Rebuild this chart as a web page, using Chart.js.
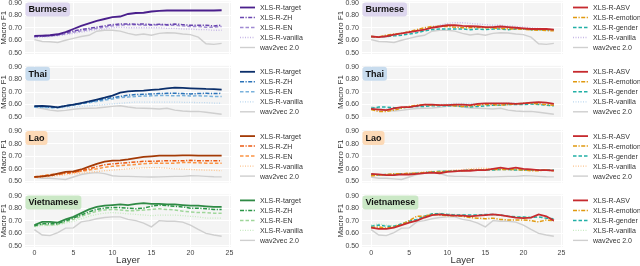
<!DOCTYPE html>
<html><head><meta charset="utf-8">
<script src="https://cdn.jsdelivr.net/npm/chart.js@4.4.1/dist/chart.umd.min.js"></script>
<style>
html,body{margin:0;padding:0;background:#fff;}
#wrap{position:relative;width:640px;height:266px;overflow:hidden;background:#fff;}
canvas{position:absolute;}
</style></head><body><div id="wrap"></div>
<script>
const layers = [0,1,2,3,4,5,6,7,8,9,10,11,12,13,14,15,16,17,18,19,20,21,22,23,24];
const languages = ['Burmese','Thai','Lao','Vietnamese'];
const leftSeriesNames = ['XLS-R-target','XLS-R-ZH','XLS-R-EN','XLS-R-vanilla','wav2vec 2.0'];
const rightSeriesNames = ['XLS-R-ASV','XLS-R-emotion','XLS-R-gender','XLS-R-vanilla','wav2vec 2.0'];
const yTicks = [0.5,0.6,0.7,0.8,0.9];
const xTicks = [0,5,10,15,20,25];

const burmeseTarget = [0.635,0.637,0.64,0.648,0.665,0.69,0.715,0.735,0.755,0.77,0.785,0.79,0.81,0.818,0.82,0.83,0.835,0.838,0.838,0.838,0.838,0.838,0.838,0.838,0.84];
const burmeseZH = [0.63,0.632,0.638,0.645,0.66,0.675,0.685,0.695,0.705,0.715,0.725,0.73,0.73,0.728,0.73,0.725,0.728,0.725,0.73,0.725,0.72,0.72,0.72,0.715,0.72];
const burmeseEN = [0.63,0.632,0.636,0.64,0.65,0.665,0.675,0.685,0.695,0.705,0.715,0.72,0.725,0.725,0.72,0.72,0.725,0.72,0.72,0.715,0.71,0.71,0.705,0.705,0.71];
const burmeseVanilla = [0.62,0.625,0.63,0.635,0.645,0.655,0.665,0.675,0.685,0.69,0.70,0.705,0.70,0.70,0.70,0.70,0.70,0.695,0.695,0.69,0.69,0.685,0.685,0.68,0.68];
const burmeseW2V = [0.605,0.59,0.588,0.582,0.60,0.615,0.63,0.64,0.672,0.68,0.68,0.673,0.655,0.642,0.65,0.64,0.655,0.66,0.658,0.65,0.645,0.625,0.572,0.567,0.575];
const burmeseASV = [0.63,0.625,0.632,0.645,0.655,0.665,0.675,0.685,0.70,0.71,0.72,0.72,0.715,0.712,0.71,0.705,0.705,0.71,0.705,0.70,0.695,0.69,0.69,0.69,0.685];
const burmeseEmotion = [0.63,0.628,0.64,0.65,0.655,0.67,0.685,0.70,0.71,0.712,0.71,0.705,0.70,0.70,0.702,0.70,0.698,0.695,0.692,0.69,0.688,0.682,0.68,0.678,0.675];
const burmeseGender = [0.63,0.625,0.63,0.635,0.64,0.65,0.66,0.675,0.685,0.69,0.69,0.69,0.69,0.685,0.69,0.685,0.69,0.69,0.685,0.69,0.69,0.685,0.685,0.685,0.685];
const burmeseVanillaR = [0.625,0.625,0.63,0.64,0.65,0.66,0.675,0.69,0.705,0.72,0.735,0.74,0.74,0.735,0.73,0.725,0.72,0.72,0.715,0.71,0.705,0.70,0.695,0.69,0.685];

const thaiTarget = [0.588,0.59,0.585,0.578,0.59,0.60,0.612,0.625,0.64,0.655,0.672,0.695,0.705,0.71,0.712,0.718,0.722,0.73,0.735,0.733,0.73,0.728,0.725,0.724,0.72];
const thaiZH = [0.585,0.585,0.58,0.578,0.59,0.60,0.61,0.62,0.632,0.645,0.655,0.665,0.675,0.68,0.682,0.685,0.688,0.69,0.69,0.688,0.685,0.688,0.69,0.688,0.69];
const thaiEN = [0.58,0.578,0.575,0.575,0.585,0.595,0.605,0.615,0.625,0.635,0.645,0.655,0.66,0.665,0.668,0.67,0.672,0.672,0.67,0.672,0.668,0.67,0.668,0.665,0.665];
const thaiVanilla = [0.578,0.575,0.572,0.57,0.575,0.58,0.585,0.59,0.595,0.60,0.605,0.61,0.615,0.62,0.62,0.62,0.62,0.62,0.62,0.618,0.618,0.615,0.615,0.612,0.61];
const thaiW2V = [0.58,0.568,0.555,0.548,0.553,0.562,0.568,0.57,0.572,0.578,0.585,0.59,0.58,0.572,0.57,0.568,0.565,0.57,0.555,0.548,0.545,0.545,0.538,0.53,0.522];
const thaiASV = [0.565,0.56,0.555,0.57,0.58,0.58,0.59,0.60,0.60,0.595,0.595,0.60,0.60,0.595,0.605,0.61,0.61,0.61,0.61,0.605,0.61,0.615,0.62,0.615,0.605];
const thaiEmotion = [0.56,0.545,0.545,0.555,0.57,0.585,0.595,0.60,0.595,0.595,0.595,0.59,0.585,0.59,0.595,0.60,0.60,0.595,0.60,0.605,0.61,0.61,0.605,0.60,0.595];
const thaiGender = [0.57,0.58,0.58,0.575,0.575,0.58,0.585,0.585,0.59,0.59,0.59,0.59,0.585,0.58,0.585,0.59,0.595,0.595,0.60,0.60,0.60,0.605,0.60,0.595,0.59];
const thaiVanillaR = [0.57,0.565,0.565,0.57,0.575,0.58,0.585,0.59,0.595,0.60,0.605,0.61,0.61,0.61,0.61,0.61,0.61,0.61,0.615,0.61,0.61,0.615,0.62,0.615,0.605];

const laoTarget = [0.535,0.54,0.548,0.562,0.575,0.58,0.595,0.618,0.64,0.658,0.665,0.668,0.675,0.685,0.695,0.70,0.705,0.706,0.706,0.708,0.708,0.706,0.706,0.706,0.706];
const laoZH = [0.535,0.538,0.545,0.555,0.565,0.572,0.585,0.60,0.618,0.632,0.64,0.645,0.65,0.655,0.66,0.66,0.662,0.665,0.665,0.665,0.668,0.665,0.665,0.665,0.665];
const laoEN = [0.535,0.545,0.555,0.56,0.565,0.57,0.58,0.59,0.60,0.612,0.62,0.625,0.63,0.635,0.64,0.645,0.645,0.645,0.645,0.65,0.65,0.648,0.645,0.645,0.645];
const laoVanilla = [0.53,0.532,0.538,0.545,0.552,0.56,0.565,0.572,0.578,0.585,0.59,0.595,0.60,0.605,0.608,0.61,0.61,0.605,0.60,0.598,0.595,0.592,0.59,0.588,0.585];
const laoW2V = [0.535,0.525,0.525,0.52,0.515,0.535,0.555,0.565,0.57,0.562,0.545,0.54,0.54,0.538,0.536,0.535,0.536,0.538,0.54,0.54,0.545,0.544,0.54,0.537,0.536];
const laoASV = [0.56,0.555,0.55,0.55,0.555,0.555,0.56,0.565,0.57,0.565,0.575,0.58,0.585,0.585,0.59,0.59,0.60,0.61,0.60,0.61,0.60,0.595,0.59,0.59,0.585];
const laoEmotion = [0.545,0.55,0.555,0.56,0.56,0.565,0.565,0.57,0.575,0.575,0.58,0.58,0.585,0.59,0.59,0.595,0.595,0.595,0.595,0.595,0.59,0.585,0.585,0.59,0.585];
const laoGender = [0.555,0.55,0.555,0.555,0.56,0.56,0.565,0.57,0.575,0.58,0.58,0.585,0.585,0.59,0.59,0.59,0.59,0.595,0.595,0.59,0.59,0.59,0.59,0.59,0.59];
const laoVanillaR = [0.545,0.55,0.555,0.56,0.56,0.565,0.57,0.575,0.58,0.58,0.585,0.59,0.595,0.60,0.605,0.605,0.60,0.60,0.595,0.595,0.59,0.59,0.59,0.59,0.59];

const vietTarget = [0.665,0.69,0.69,0.685,0.71,0.73,0.76,0.79,0.81,0.82,0.825,0.83,0.825,0.835,0.84,0.835,0.835,0.83,0.83,0.825,0.82,0.82,0.815,0.81,0.81];
const vietZH = [0.66,0.675,0.675,0.675,0.70,0.72,0.745,0.77,0.79,0.80,0.805,0.805,0.80,0.795,0.80,0.815,0.825,0.82,0.815,0.81,0.80,0.80,0.795,0.79,0.79];
const vietEN = [0.655,0.67,0.665,0.67,0.69,0.71,0.735,0.755,0.775,0.785,0.79,0.785,0.78,0.78,0.785,0.79,0.795,0.79,0.785,0.775,0.77,0.765,0.765,0.76,0.76];
const vietVanilla = [0.65,0.66,0.66,0.665,0.68,0.695,0.715,0.735,0.75,0.76,0.765,0.76,0.755,0.75,0.745,0.74,0.745,0.745,0.745,0.74,0.735,0.73,0.72,0.72,0.72];
const vietW2V = [0.628,0.585,0.58,0.605,0.64,0.642,0.69,0.70,0.715,0.725,0.73,0.73,0.71,0.70,0.68,0.65,0.70,0.695,0.695,0.688,0.665,0.63,0.598,0.585,0.575];
const vietASV = [0.645,0.635,0.635,0.645,0.665,0.685,0.70,0.725,0.745,0.75,0.745,0.74,0.74,0.735,0.74,0.745,0.75,0.745,0.735,0.725,0.72,0.725,0.75,0.735,0.70];
const vietEmotion = [0.645,0.65,0.64,0.65,0.67,0.70,0.735,0.735,0.75,0.745,0.74,0.74,0.735,0.725,0.72,0.715,0.72,0.71,0.705,0.705,0.705,0.70,0.69,0.705,0.70];
const vietGender = [0.655,0.665,0.655,0.655,0.675,0.695,0.71,0.735,0.755,0.755,0.75,0.745,0.745,0.745,0.745,0.75,0.75,0.745,0.735,0.73,0.73,0.725,0.73,0.72,0.715];
const vietVanillaR = [0.665,0.675,0.665,0.66,0.675,0.69,0.71,0.735,0.755,0.76,0.755,0.75,0.745,0.74,0.74,0.745,0.745,0.74,0.735,0.735,0.73,0.73,0.725,0.72,0.715];

const leftData = [
  [burmeseTarget, burmeseZH, burmeseEN, burmeseVanilla, burmeseW2V],
  [thaiTarget, thaiZH, thaiEN, thaiVanilla, thaiW2V],
  [laoTarget, laoZH, laoEN, laoVanilla, laoW2V],
  [vietTarget, vietZH, vietEN, vietVanilla, vietW2V]
];
const rightData = [
  [burmeseASV, burmeseEmotion, burmeseGender, burmeseVanillaR, burmeseW2V],
  [thaiASV, thaiEmotion, thaiGender, thaiVanillaR, thaiW2V],
  [laoASV, laoEmotion, laoGender, laoVanillaR, laoW2V],
  [vietASV, vietEmotion, vietGender, vietVanillaR, vietW2V]
];

// styling
const leftColors = [
  ['#4a1f8c','#6a46b0','#a08ad2','#c7b8e6','#cfcfcf'],
  ['#0b2f6b','#2a72b8','#7ab2dc','#bcd8ee','#cfcfcf'],
  ['#a33a06','#ec5a12','#fb9444','#fcc48f','#cfcfcf'],
  ['#2f8a45','#2a9646','#9fd69a','#c8eac2','#cfcfcf']
];
const rightColors = [
  ['#c62a2e','#e0990f','#22b0a6','#c7b8e6','#cfcfcf'],
  ['#c62a2e','#e0990f','#22b0a6','#bcd8ee','#cfcfcf'],
  ['#c62a2e','#e0990f','#22b0a6','#fcc48f','#cfcfcf'],
  ['#c62a2e','#e0990f','#22b0a6','#c8eac2','#cfcfcf']
];
const boxColors = ['#ddd6ee','#c8dcee','#fcd9b6','#cbe8c6'];
const widths = [1.8,1.5,1.5,1.3,1.4];
const dashes = [[],[4,1.5,1.2,1.5],[3.5,2],[1,1.5],[]];
const drawOrder = [1,2,3,4,5];
const FONT = "'Liberation Sans', Arial, sans-serif";

const panelPlugin = {
  id: 'panel',
  beforeDraw(chart, args, o) {
    const {ctx, chartArea: a} = chart;
    ctx.save();
    ctx.fillStyle = '#f4f4f4';
    ctx.fillRect(a.left, a.top, a.right - a.left, a.bottom - a.top);
    ctx.restore();
  },
  afterDatasetsDraw(chart, args, o) {
    const {ctx, chartArea: a} = chart;
    ctx.save();
    ctx.font = 'bold 9px ' + FONT;
    const tw = ctx.measureText(o.label).width;
    const bx = a.left + 0.5, by = a.top + 1, bw = tw + 6, bh = 14;
    ctx.fillStyle = o.boxColor;
    ctx.beginPath();
    ctx.roundRect(bx, by, bw, bh, 3);
    ctx.fill();
    ctx.fillStyle = '#111';
    ctx.textBaseline = 'middle';
    ctx.fillText(o.label, bx + 3, by + bh / 2 + 0.5);
    ctx.restore();
  },
  afterDraw(chart, args, o) {
    const {ctx, chartArea: a} = chart;
    ctx.save();
    chart.data.datasets.forEach((ds, k) => {
      const y = a.top + 6 + 10 * k;
      ctx.strokeStyle = ds.borderColor;
      ctx.lineWidth = ds.borderWidth;
      ctx.setLineDash(ds.borderDash);
      ctx.beginPath();
      ctx.moveTo(o.legendX, y);
      ctx.lineTo(o.legendX + 15, y);
      ctx.stroke();
      ctx.setLineDash([]);
      ctx.fillStyle = '#333';
      ctx.font = '7px ' + FONT;
      ctx.textBaseline = 'middle';
      ctx.fillText(ds.label, o.legendX + 20, y + 0.5);
    });
    ctx.restore();
  }
};

const wrap = document.getElementById('wrap');
const plotTops = [1.5, 65.8, 130.1, 194.4];
const plotH = 52.5;
const cols = [
  {left: 0, plotLeft: 25, plotRight: 231, legendX: 240, titlePad: 0, names: leftSeriesNames, data: leftData, colors: leftColors},
  {left: 320, plotLeft: 362, plotRight: 563, legendX: 253, titlePad: 16.5, names: rightSeriesNames, data: rightData, colors: rightColors}
];

cols.forEach(col => {
  languages.forEach((lang, r) => {
    const isBottom = r === 3;
    const cTop = Math.floor(plotTops[r]) - 8;
    const cH = isBottom ? 266 - cTop : 70;
    const inTop = plotTops[r] - cTop;
    const xAxisH = isBottom ? cH - inTop - plotH : 0;
    const padBottom = isBottom ? 0 : cH - inTop - plotH;
    const canvas = document.createElement('canvas');
    canvas.width = 320; canvas.height = cH;
    canvas.style.left = col.left + 'px';
    canvas.style.top = cTop + 'px';
    canvas.style.width = '320px';
    canvas.style.height = cH + 'px';
    wrap.appendChild(canvas);

    const datasets = col.names.map((name, k) => ({
      label: name,
      data: layers.map((l, i) => ({x: l, y: col.data[r][k][i]})),
      borderColor: col.colors[r][k],
      borderWidth: widths[k],
      borderDash: dashes[k],
      pointRadius: 0,
      tension: 0,
      fill: false,
      order: drawOrder[k]
    }));

    new Chart(canvas, {
      type: 'line',
      data: {datasets},
      plugins: [panelPlugin],
      options: {
        responsive: false,
        animation: false,
        devicePixelRatio: 1,
        layout: {padding: {left: 0, top: inTop, right: 320 - (col.plotRight - col.left), bottom: padBottom}},
        plugins: {
          legend: {display: false},
          tooltip: {enabled: false},
          panel: {label: lang, boxColor: boxColors[r], legendX: col.legendX}
        },
        scales: {
          x: {
            type: 'linear', min: -1.2, max: 25.2,
            afterBuildTicks: s => { s.ticks = xTicks.map(v => ({value: v})); },
            afterFit: s => { s.height = xAxisH; },
            grid: {color: '#ffffff', lineWidth: 1, drawTicks: false},
            border: {display: false},
            ticks: {display: isBottom, padding: 2, color: '#444', font: {family: FONT, size: 7}, maxRotation: 0},
            title: {display: isBottom, text: 'Layer', color: '#333', font: {family: FONT, size: 9.5}, padding: {top: 0, bottom: 0}}
          },
          y: {
            type: 'linear', min: 0.49, max: 0.91,
            afterBuildTicks: s => { s.ticks = yTicks.map(v => ({value: v})); },
            afterFit: s => { s.width = col.plotLeft - col.left; },
            grid: {color: '#ffffff', lineWidth: 1, drawTicks: false},
            border: {display: false},
            ticks: {padding: 3, color: '#444', font: {family: FONT, size: 7}, callback: v => v.toFixed(2)},
            title: {display: true, text: 'Macro F1', color: '#333', font: {family: FONT, size: 8, lineHeight: 1}, padding: {top: col.titlePad, bottom: 0}}
          }
        }
      }
    });
  });
});
</script>
</body></html>
